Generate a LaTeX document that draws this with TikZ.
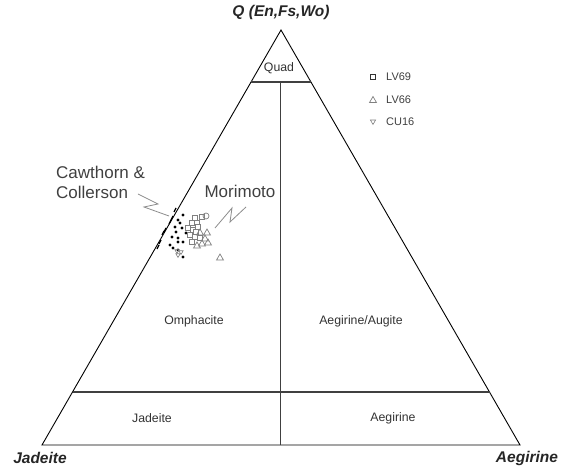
\documentclass[tikz,border=0pt]{standalone}
\usepackage{fontspec}
\setmainfont{Liberation Sans}
\usetikzlibrary{shapes.geometric}
\begin{document}
\begin{tikzpicture}[x=1pt,y=-1pt,
  edge/.style={draw=black,line width=0.9pt},
  divider/.style={draw=black!75,line width=1.1pt},
  field/.style={text=black!80,font=\fontsize{12.3}{14}\selectfont,inner sep=0pt},
  corner/.style={text=black!85,font=\fontsize{15.5}{18}\selectfont\bfseries\itshape,inner sep=0pt},
  author/.style={text=black!75,font=\fontsize{17}{19.5}\selectfont,inner sep=0pt,align=left},
  legtext/.style={text=black!75,font=\fontsize{11}{13}\selectfont,inner sep=0pt,anchor=west},
  leader/.style={draw=black!45,line width=0.8pt},
  sq/.style={draw=black!50,line width=0.7pt,fill=white,rectangle,minimum size=5pt,inner sep=0pt},
  tri/.style={draw=black!50,line width=0.7pt,regular polygon,regular polygon sides=3,minimum size=8pt,inner sep=0pt},
  itri/.style={draw=black!50,line width=0.6pt,regular polygon,regular polygon sides=3,shape border rotate=180,minimum size=6pt,inner sep=0pt},
  dot/.style={fill=black,circle,minimum size=3.2pt,inner sep=0pt},
]
\useasboundingbox (0,0) rectangle (563,470);
% vertices
\coordinate (J) at (42,445);
\coordinate (A) at (520,445);
\coordinate (Q) at (281,30);
\draw[edge] (J) -- (A) -- (Q) -- cycle;
% dividers
\coordinate (qL) at (251,82);
\coordinate (qR) at (311,82);
\coordinate (qM) at (280.5,82);
\coordinate (bL) at (72.5,392);
\coordinate (bR) at (489.5,392);
\coordinate (bM) at (280.5,445);
\draw[divider] (qL) -- (qR);
\draw[divider] (bL) -- (bR);
\draw[divider] (qM) -- (bM);
% field labels
\node[field] (quad) at (279,68) {Quad};
\node[field] (omph) at (194,321) {Omphacite};
\node[field] (aegaug) at (361,321) {Aegirine/Augite};
\node[field] (jad) at (152,418) {Jadeite};
\node[field] (aeg) at (393,418) {Aegirine};
% corner labels
\node[corner] (qlab) at (281,12) {Q (En,Fs,Wo)};
\node[corner] (jlab) at (40,458) {Jadeite};
\node[corner] (alab) at (527,458) {Aegirine};
% author labels
\node[author,anchor=north west] (caw) at (56,166) {Cawthorn \&\\Collerson};
\node[author] (mor) at (240,191) {Morimoto};
% leaders
\coordinate (c1) at (138,194);
\coordinate (c2) at (158,204);
\coordinate (c3) at (144,207);
\coordinate (c4) at (169,216);
\draw[leader] (c1) -- (c2) -- (c3) -- (c4);
\coordinate (m1) at (215,228);
\coordinate (m2) at (232,208);
\coordinate (m3) at (230,222);
\coordinate (m4) at (246,207);
\draw[leader] (m1) -- (m2) -- (m3) -- (m4);
% legend
\node[sq,draw=black!80,line width=0.8pt] (ls) at (373,77) {};
\node[legtext] (lt1) at (386,77) {LV69};
\node[tri] (lt) at (373,100.5) {};
\node[legtext] (lt2) at (386,100) {LV66};
\node[itri] (li) at (373,121.5) {};
\node[legtext] (lt3) at (386,122) {CU16};
% Cawthorn & Collerson data (black)
\foreach \x/\y [count=\i] in {175/210,172/218,170/222,165/230,163/233,160/242,158/247}
  \draw[black,line width=1.3pt] (\x-1,\y+2) -- (\x+1,\y-2);
\foreach \x/\y [count=\i] in {183/215,178/220,180/223,175/227,182/228,172/237,178/238,178/242,183/242,173/248,178/250,183/257,186/233,170/245,176/232}
  \node[dot] (cc\i) at (\x,\y) {};
\foreach \x/\y [count=\i] in {177/251,181/252,178/255}
  \node[itri,minimum size=5pt] (cu\i) at (\x,\y) {};
% Morimoto data (grey)
\foreach \x/\y [count=\i] in {195/218,202/217,192/223,197/223,188/228,193/230,198/227,190/235,195/237,200/238,192/242,196/232}
  \node[sq] (ms\i) at (\x,\y) {};
\node[draw=black!50,line width=0.7pt,circle,minimum size=6pt,inner sep=0pt] (mc) at (206,216) {};
\foreach \x/\y [count=\i] in {207/233,205/239,208/243,197/246,202/244,220/258,200/233}
  \node[tri] (mt\i) at (\x,\y) {};
\end{tikzpicture}
\end{document}
